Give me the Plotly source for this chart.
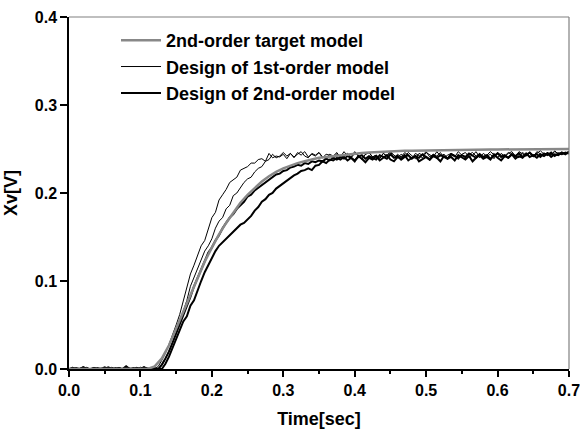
import numpy as np
import plotly.graph_objects as go

DT = 0.005  # sampling step of measured traces (s)

# 2nd-order target model (sampled every 0.01 s)
target_t = [round(i * 0.01, 2) for i in range(71)]
target_v = [0] * 12 + [
    0.003, 0.012, 0.027, 0.046, 0.066, 0.086, 0.105, 0.122, 0.138, 0.153,
    0.166, 0.178, 0.189, 0.198, 0.206, 0.213, 0.219, 0.224, 0.228, 0.231,
    0.234, 0.236, 0.238, 0.240, 0.241, 0.242, 0.243, 0.244, 0.245,
    0.2455, 0.246, 0.2465, 0.247, 0.2473, 0.2476, 0.2479, 0.2481, 0.2483, 0.2485,
    0.2487, 0.2488, 0.2489, 0.249, 0.2491, 0.2492, 0.2493, 0.2494, 0.2495, 0.2495,
    0.2496, 0.2496, 0.2497, 0.2497, 0.2498, 0.2498, 0.2498, 0.2499, 0.2499, 0.25,
]

# Design of 1st-order model (two measured responses)
first_a = [
    0, 0.002, 0, 0, 0.001, 0, 0, 0.002, 0, 0,
    0.001, 0, 0, 0, 0.002, 0, 0, 0.001, 0, 0,
    0.002, 0, 0, 0.001, 0.000,
    0.003, 0.010, 0.018, 0.028, 0.038, 0.050, 0.062, 0.078, 0.092, 0.108,
    0.118, 0.130, 0.140, 0.146, 0.160, 0.172, 0.178, 0.192, 0.198, 0.204,
    0.212, 0.215, 0.218, 0.226, 0.228, 0.230, 0.234, 0.234, 0.238, 0.239,
    0.236, 0.245, 0.240, 0.242, 0.241, 0.244, 0.239, 0.245, 0.240, 0.246,
    0.243, 0.247, 0.241, 0.244,
    0.242, 0.246, 0.240, 0.244, 0.243, 0.239, 0.245, 0.241, 0.247, 0.242,
    0.240, 0.245, 0.243, 0.238, 0.244, 0.246, 0.241, 0.243, 0.239, 0.245,
    0.242, 0.247, 0.240, 0.244, 0.241, 0.246, 0.243, 0.239, 0.245, 0.242,
    0.240, 0.246, 0.243, 0.241, 0.247, 0.242, 0.244, 0.240, 0.245, 0.243,
    0.238, 0.244, 0.246, 0.241, 0.243, 0.247, 0.240, 0.245, 0.242, 0.244,
    0.239, 0.246, 0.243, 0.241, 0.245, 0.247, 0.242, 0.240, 0.246, 0.243,
    0.245, 0.241, 0.247, 0.244, 0.242, 0.246, 0.243, 0.248, 0.244, 0.246,
    0.245, 0.247,
]
first_b = [
    0, 0, 0.001, 0, 0, 0.002, 0, 0, 0, 0.001,
    0, 0, 0.002, 0, 0, 0, 0.001, 0, 0, 0.002,
    0, 0, 0.001, 0, 0, 0,
    0.004, 0.012, 0.020, 0.030, 0.040, 0.052, 0.066, 0.078, 0.094, 0.104,
    0.114, 0.126, 0.134, 0.140, 0.148, 0.160, 0.168, 0.172, 0.182, 0.186,
    0.197, 0.200, 0.206, 0.212, 0.216, 0.218, 0.224, 0.228, 0.230, 0.236,
    0.238, 0.244, 0.240, 0.242, 0.246, 0.242, 0.245,
    0.241, 0.244, 0.247, 0.242, 0.240, 0.245, 0.243, 0.246, 0.241, 0.239,
    0.244, 0.242, 0.246, 0.240, 0.243, 0.245, 0.241, 0.247, 0.242, 0.239,
    0.244, 0.246, 0.241, 0.243, 0.240, 0.245, 0.242, 0.247, 0.243, 0.240,
    0.244, 0.241, 0.246, 0.242, 0.239, 0.245, 0.243, 0.247, 0.241, 0.244,
    0.242, 0.246, 0.240, 0.243, 0.245, 0.241, 0.247, 0.243, 0.240, 0.244,
    0.246, 0.242, 0.245, 0.241, 0.243, 0.247, 0.244, 0.240, 0.245, 0.242,
    0.246, 0.243, 0.241, 0.247, 0.244, 0.242, 0.246, 0.243, 0.245, 0.248,
    0.244, 0.246, 0.243, 0.247, 0.245, 0.246, 0.244, 0.247,
]

# Design of 2nd-order model (two measured responses)
second_a = [
    0, 0.001, 0, 0, 0.002, 0, 0, 0.001, 0, 0,
    0, 0.002, 0, 0, 0.001, 0, 0.003, 0, 0, 0.001,
    0, 0.002, 0, 0.001, 0, 0,
    0.005, 0.012, 0.020, 0.030, 0.040, 0.050, 0.062, 0.072, 0.082, 0.094,
    0.104, 0.114, 0.122, 0.132, 0.138, 0.146, 0.152, 0.160, 0.166, 0.172,
    0.176, 0.182, 0.186, 0.190, 0.196, 0.198, 0.203, 0.206, 0.210, 0.212,
    0.216, 0.218, 0.221, 0.222, 0.225, 0.226, 0.229, 0.230, 0.232, 0.231,
    0.234, 0.233, 0.236, 0.235, 0.237, 0.236, 0.239, 0.237, 0.240,
    0.238, 0.241, 0.239, 0.242, 0.240, 0.237, 0.241, 0.243, 0.239, 0.242,
    0.240, 0.238, 0.243, 0.241, 0.239, 0.244, 0.240, 0.242, 0.238, 0.241,
    0.243, 0.239, 0.242, 0.240, 0.244, 0.241, 0.238, 0.242, 0.240, 0.243,
    0.241, 0.239, 0.244, 0.242, 0.240, 0.243, 0.241, 0.245, 0.242, 0.240,
    0.244, 0.241, 0.243, 0.239, 0.242, 0.245, 0.241, 0.243, 0.240, 0.244,
    0.242, 0.245, 0.241, 0.243, 0.246, 0.242, 0.244, 0.241, 0.245, 0.243,
    0.246, 0.242, 0.245, 0.244, 0.246, 0.245,
]
second_b = [
    0, 0, 0.001, 0, 0.002, 0, 0, 0, 0.001, 0,
    0.002, 0, 0, 0.001, 0, 0, 0.002, 0, 0.001, 0,
    0, 0.002, 0, 0, 0.001, 0, 0,
    0.006, 0.014, 0.024, 0.032, 0.042, 0.054, 0.060, 0.072, 0.078, 0.090,
    0.100, 0.110, 0.118, 0.126, 0.134, 0.140, 0.144, 0.148, 0.152, 0.156,
    0.160, 0.164, 0.166, 0.170, 0.174, 0.180, 0.184, 0.190, 0.193, 0.198,
    0.200, 0.205, 0.208, 0.212, 0.214, 0.218, 0.220, 0.222, 0.225, 0.226,
    0.228, 0.226, 0.231, 0.232, 0.236, 0.234, 0.238, 0.237, 0.240, 0.238,
    0.241, 0.237, 0.240, 0.236, 0.242, 0.239, 0.235, 0.240, 0.238, 0.242,
    0.237, 0.240, 0.243, 0.238, 0.236, 0.241, 0.239, 0.243, 0.237, 0.240,
    0.242, 0.236, 0.239, 0.241, 0.238, 0.243, 0.240, 0.236, 0.242, 0.239,
    0.241, 0.237, 0.243, 0.240, 0.238, 0.242, 0.236, 0.240, 0.243, 0.239,
    0.241, 0.238, 0.244, 0.240, 0.237, 0.242, 0.240, 0.244, 0.239, 0.242,
    0.240, 0.245, 0.241, 0.243, 0.240, 0.244, 0.242, 0.245, 0.241, 0.244,
    0.243, 0.246, 0.244, 0.247,
]

x_ticks = [0.0, 0.1, 0.2, 0.3, 0.4, 0.5, 0.6, 0.7]
x_tick_labels = ["0.0", "0.1", "0.2", "0.3", "0.4", "0.5", "0.6", "0.7"]
y_ticks = [0.0, 0.1, 0.2, 0.3, 0.4]
y_tick_labels = ["0.0", "0.1", "0.2", "0.3", "0.4"]


def times(values):
    return np.round(np.arange(len(values)) * DT, 3)


FONT = "Arial, 'Liberation Sans', sans-serif"
TICKFONT = dict(family=FONT, size=16, color="black", weight="bold")
TITLEFONT = dict(family=FONT, size=18, color="black", weight="bold")

fig = go.Figure()
fig.add_trace(go.Scatter(x=times(second_a), y=second_a, mode="lines",
                         line=dict(color="black", width=2),
                         name="Design of 2nd-order model", showlegend=False))
fig.add_trace(go.Scatter(x=times(second_b), y=second_b, mode="lines",
                         line=dict(color="black", width=2),
                         name="Design of 2nd-order model", showlegend=False))
fig.add_trace(go.Scatter(x=times(first_a), y=first_a, mode="lines",
                         line=dict(color="black", width=1),
                         name="Design of 1st-order model", showlegend=False))
fig.add_trace(go.Scatter(x=times(first_b), y=first_b, mode="lines",
                         line=dict(color="black", width=1),
                         name="Design of 1st-order model", showlegend=False))
fig.add_trace(go.Scatter(x=target_t, y=target_v, mode="lines",
                         line=dict(color="#888888", width=2.5),
                         name="2nd-order target model", showlegend=False))

# legend entries (in legend order)
fig.add_trace(go.Scatter(x=[None], y=[None], mode="lines",
                         line=dict(color="#888888", width=2.5),
                         name="2nd-order target model"))
fig.add_trace(go.Scatter(x=[None], y=[None], mode="lines",
                         line=dict(color="black", width=1),
                         name="Design of 1st-order model"))
fig.add_trace(go.Scatter(x=[None], y=[None], mode="lines",
                         line=dict(color="black", width=2),
                         name="Design of 2nd-order model"))

fig.update_layout(
    width=580, height=430,
    margin=dict(l=69, r=11, t=17, b=61),
    paper_bgcolor="white", plot_bgcolor="white",
    font=dict(family=FONT, color="black", size=16, weight="bold"),
    showlegend=True,
    legend=dict(x=0.094, y=0.986, xanchor="left", yanchor="top",
                bgcolor="rgba(0,0,0,0)", traceorder="normal",
                font=dict(size=18, family=FONT, weight="bold", color="black"),
                tracegroupgap=0, itemwidth=40),
    xaxis=dict(range=[0, 0.70001], tickvals=x_ticks,
               ticktext=["<b>%s</b>" % s for s in x_tick_labels],
               automargin=False, ticklabeloverflow="allow",
               showgrid=False, zeroline=False, showline=True,
               linecolor="black", linewidth=1.5,
               ticks="outside", ticklen=6, tickwidth=1.5, tickcolor="black",
               minor=dict(dtick=0.05, ticks="outside", ticklen=3,
                          tickwidth=1.5, tickcolor="black", showgrid=False),
               title=dict(text="Time[sec]", font=TITLEFONT, standoff=14),
               tickfont=TICKFONT),
    yaxis=dict(range=[0, 0.40001], tickvals=y_ticks,
               ticktext=["<b>%s</b>" % s for s in y_tick_labels],
               automargin=False, ticklabeloverflow="allow",
               showgrid=False, zeroline=False, showline=True,
               linecolor="black", linewidth=1.5,
               ticks="outside", ticklen=7, tickwidth=1.5, tickcolor="black",
               title=dict(text="Xv[V]", font=TITLEFONT, standoff=12),
               tickfont=TICKFONT),
)

# top and right frame lines (gray)
fig.add_shape(type="line", xref="paper", yref="paper", x0=0, x1=1, y0=1, y1=1,
              line=dict(color="#808080", width=1.2))
fig.add_shape(type="line", xref="paper", yref="paper", x0=1, x1=1, y0=0, y1=1,
              line=dict(color="#808080", width=1.2))

fig.write_html("out.html")
